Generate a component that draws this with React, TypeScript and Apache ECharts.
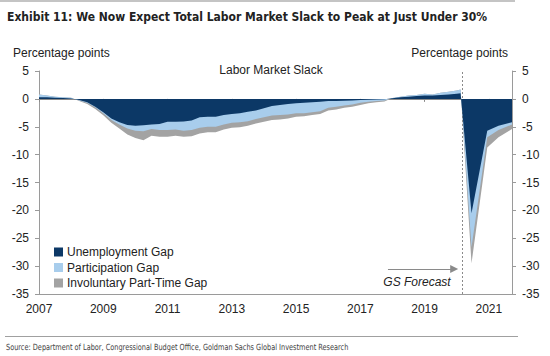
import React, { useEffect, useRef } from "react";
import * as echarts from "echarts";

// Decimal years of the data points (quarterly history, then forecast)
const years = [
  2007.0, 2007.25, 2007.5, 2007.75, 2008.0, 2008.25, 2008.5, 2008.75,
  2009.0, 2009.25, 2009.5, 2009.75, 2010.0, 2010.25, 2010.5, 2010.75,
  2011.0, 2011.25, 2011.5, 2011.75, 2012.0, 2012.25, 2012.5, 2012.75,
  2013.0, 2013.25, 2013.5, 2013.75, 2014.0, 2014.25, 2014.5, 2014.75,
  2015.0, 2015.25, 2015.5, 2015.75, 2016.0, 2016.25, 2016.5, 2016.75,
  2017.0, 2017.25, 2017.5, 2017.75, 2018.0, 2018.25, 2018.5, 2018.75,
  2019.0, 2019.25, 2019.5, 2019.75, 2020.0, 2020.12,
  2020.46, 2020.95, 2021.3, 2021.72,
];

const unemploymentGap = [
  0.3, 0.3, 0.2, 0.15, 0.05, -0.2, -0.6, -1.4,
  -2.4, -3.5, -4.2, -4.7, -4.8, -4.75, -4.6, -4.5,
  -4.1, -4.1, -4.05, -3.9, -3.3, -3.2, -3.2, -2.9,
  -2.7, -2.6, -2.3, -2.1, -1.7, -1.3, -1.1, -0.9,
  -0.8, -0.7, -0.6, -0.5, -0.4, -0.4, -0.35, -0.3,
  -0.2, -0.15, -0.1, -0.05, 0.1, 0.3, 0.4, 0.5,
  0.6, 0.6, 0.7, 0.8, 0.9, 1.0,
  -20.5, -5.7, -4.8, -4.2,
];

const participationGap = [
  0.5, 0.3, 0.2, 0.15, 0.15, -0.1, -0.1, -0.1,
  -0.2, -0.3, -0.4, -0.6, -0.9, -1.05, -0.8, -1.1,
  -1.5, -1.4, -1.65, -1.7, -1.9, -1.8, -1.8, -1.7,
  -1.6, -1.6, -1.7, -1.5, -1.6, -1.7, -1.8, -1.9,
  -1.8, -1.9, -1.8, -1.7, -1.2, -1.0, -0.85, -0.7,
  -0.5, -0.35, -0.3, -0.25, 0.05, 0.1, 0.2, 0.2,
  0.3, 0.2, 0.4, 0.5, 0.6, 0.7,
  -6.1, -1.2, -0.8, -0.4,
];

const involuntaryPartTimeGap = [
  0, 0, 0, 0, 0, -0.1, -0.2, -0.3,
  -0.35, -0.5, -0.7, -1.1, -1.3, -1.6, -1.2, -1.2,
  -1.2, -1.1, -1.1, -1.1, -1.0, -1.0, -1.0, -0.9,
  -0.9, -0.9, -0.8, -0.8, -0.8, -0.8, -0.8, -0.7,
  -0.6, -0.5, -0.5, -0.5, -0.5, -0.5, -0.4, -0.4,
  -0.4, -0.3, -0.2, -0.15, 0, 0, 0, 0,
  0, 0, 0, 0, 0, 0,
  -2.9, -1.8, -1.3, -0.8,
];

const tickYears = [2007, 2009, 2011, 2013, 2015, 2017, 2019, 2021];
const xMin = 2007;
const xMax = 2021.72;
const forecastStart = 2020.17;
const arrowFrom = [2017.86, -30.5];
const arrowTo = [2019.92, -30.5];

const seriesNames = ["Unemployment Gap", "Participation Gap", "Involuntary Part-Time Gap"];
const seriesColors = ["#0c3866", "#a8cdec", "#a3a3a3"];

const FONT = "'Liberation Sans', Arial, sans-serif";
const NARROW = "'Liberation Sans Narrow', 'Arial Narrow', 'DejaVu Sans Condensed', sans-serif";

export default function App() {
  const ref = useRef<HTMLDivElement>(null);

  useEffect(() => {
    document.body.style.margin = "0";
    const chart = echarts.init(ref.current!, null, { renderer: "svg" });
    const components = [unemploymentGap, participationGap, involuntaryPartTimeGap];

    // cumulative stacking (each area drawn from zero to its running total; nearer layers on top)
    const running = years.map(() => 0);
    const series: any[] = components.map((vals, i) => {
      vals.forEach((v, k) => (running[k] += v));
      const totals = running.slice();
      return {
        name: seriesNames[i],
        type: "line",
        data: years.map((y, k) => [y, +totals[k].toFixed(3)]),
        symbol: "none",
        showSymbol: false,
        lineStyle: { width: 0 },
        itemStyle: { color: seriesColors[i] },
        areaStyle: { color: seriesColors[i], opacity: 1, origin: 0 },
        z: 5 - i,
      };
    });

    series[0].markLine = {
      silent: true,
      symbol: "none",
      animation: false,
      label: { show: false },
      lineStyle: { color: "#8a8a8a", type: [2, 2], width: 1 },
      data: [{ xAxis: forecastStart }],
    };
    series[1].markLine = {
      silent: true,
      symbol: ["none", "triangle"],
      symbolSize: 8,
      animation: false,
      label: { show: false },
      lineStyle: { color: "#8a8a8a", type: "solid", width: 1.2 },
      itemStyle: { color: "#8a8a8a" },
      data: [[{ coord: arrowFrom }, { coord: arrowTo }]],
    };

    const yAxisCommon = {
      type: "value",
      min: -35,
      max: 5,
      interval: 5,
      splitLine: { show: false },
      axisLine: { show: true, lineStyle: { color: "#9a9a9a", width: 1 } },
      axisTick: { show: true, length: 4, lineStyle: { color: "#9a9a9a" } },
      axisLabel: { color: "#222", fontSize: 12, fontFamily: FONT, margin: 10 },
    };

    chart.setOption({
      animation: false,
      backgroundColor: "#ffffff",
      grid: { left: 39, right: 38, top: 71, bottom: 62, containLabel: false },
      legend: {
        orient: "vertical",
        left: 54,
        top: 245,
        padding: 0,
        itemWidth: 9,
        itemHeight: 9,
        itemGap: 1.5,
        icon: "rect",
        selectedMode: false,
        data: seriesNames,
        textStyle: { color: "#222", fontSize: 12, fontFamily: FONT, lineHeight: 14, padding: [0, 0, 0, -1] },
      },
      xAxis: [
        {
          type: "value",
          min: xMin,
          max: xMax,
          splitLine: { show: false },
          axisLine: { onZero: false, lineStyle: { color: "#9a9a9a" } },
          axisTick: { show: false },
          axisLabel: {
            color: "#222",
            fontSize: 12,
            fontFamily: FONT,
            margin: 9,
            customValues: tickYears,
            formatter: (v: number) => String(Math.round(v)),
          },
        },
        {
          type: "value",
          min: xMin,
          max: xMax,
          position: "bottom",
          splitLine: { show: false },
          axisLine: { onZero: true, onZeroAxisIndex: 0, lineStyle: { color: "#8a8a8a" } },
          axisTick: { show: true, length: 3, customValues: tickYears, lineStyle: { color: "#8a8a8a" } },
          axisLabel: { show: false },
        },
      ],
      yAxis: [
        { ...yAxisCommon, position: "left" },
        { ...yAxisCommon, position: "right" },
      ],
      series,
      graphic: [
        { type: "rect", shape: { x: 0, y: 0, width: 515, height: 2 }, style: { fill: "#c4c4c4" } },
        {
          type: "text",
          left: 7,
          top: 11,
          style: {
            text: "Exhibit 11: We Now Expect Total Labor Market Slack to Peak at Just Under 30%",
            fill: "#222",
            font: `bold 12px ${NARROW}`,
          },
        },
        {
          type: "text",
          x: 13,
          y: 53,
          style: { text: "Percentage points", fill: "#222", font: `12px ${FONT}`, verticalAlign: "middle" },
        },
        {
          type: "text",
          x: 508,
          y: 53,
          style: { text: "Percentage points", fill: "#222", font: `12px ${FONT}`, align: "right", verticalAlign: "middle" },
        },
        {
          type: "text",
          x: 271,
          y: 70,
          style: { text: "Labor Market Slack", fill: "#222", font: `12px ${FONT}`, align: "center", verticalAlign: "middle" },
        },
        {
          type: "text",
          x: 417,
          y: 282,
          style: { text: "GS Forecast", fill: "#222", font: `italic 12px ${FONT}`, align: "center", verticalAlign: "middle" },
        },
        { type: "rect", shape: { x: 5, y: 336, width: 513, height: 1 }, style: { fill: "#a0a0a0" } },
        {
          type: "text",
          x: 6,
          y: 347,
          scaleX: 0.86,
          style: {
            text: "Source: Department of Labor, Congressional Budget Office, Goldman Sachs Global Investment Research",
            fill: "#444",
            font: `8.5px ${NARROW}`,
            verticalAlign: "middle",
          },
        },
      ],
    });

    return () => chart.dispose();
  }, []);

  return <div ref={ref} style={{ width: 550, height: 356 }} />;
}
